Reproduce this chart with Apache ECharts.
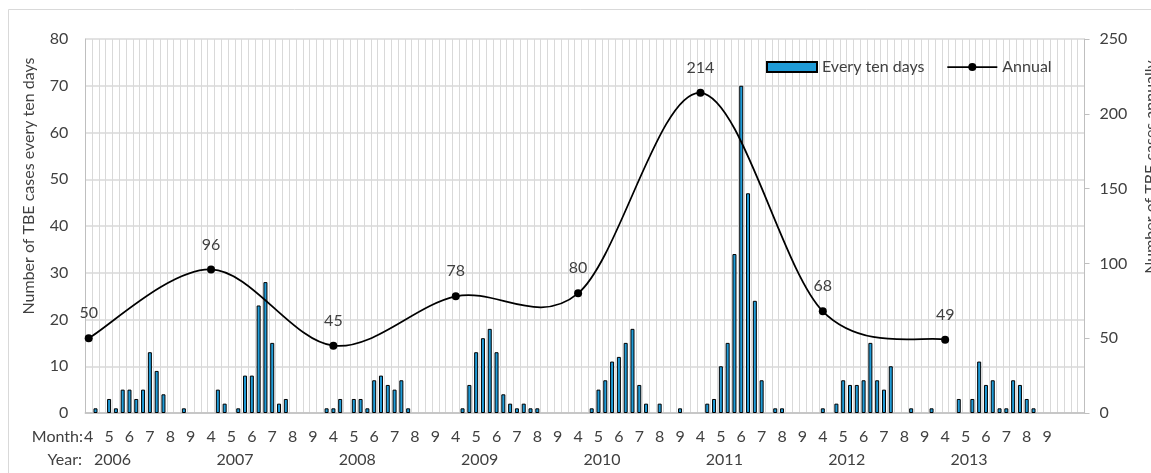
<!DOCTYPE html>
<html><head><meta charset="utf-8">
<script src="https://cdn.jsdelivr.net/npm/echarts@6/dist/echarts.min.js"></script>
<style>html,body{margin:0;padding:0;background:#fff}#c{width:1151px;height:473px}</style>
</head><body><div id="c"></div>
<script>
// ---- data ----
const years = [2006, 2007, 2008, 2009, 2010, 2011, 2012, 2013];
const months = [4, 5, 6, 7, 8, 9];
const dekads = [1, 2, 3];
// ten-day case counts, April dekad 1 ... September dekad 3, per year
const cases2006 = [0, 1, 0, 3, 1, 5, 5, 3, 5, 13, 9, 4, 0, 0, 1, 0, 0, 0];
const cases2007 = [0, 5, 2, 0, 1, 8, 8, 23, 28, 15, 2, 3, 0, 0, 0, 0, 0, 1];
const cases2008 = [1, 3, 0, 3, 3, 1, 7, 8, 6, 5, 7, 1, 0, 0, 0, 0, 0, 0];
const cases2009 = [0, 1, 6, 13, 16, 18, 13, 4, 2, 1, 2, 1, 1, 0, 0, 0, 0, 0];
const cases2010 = [0, 0, 1, 5, 7, 11, 12, 15, 18, 6, 2, 0, 2, 0, 0, 1, 0, 0];
const cases2011 = [0, 2, 3, 10, 15, 34, 70, 47, 24, 7, 0, 1, 1, 0, 0, 0, 0, 0];
const cases2012 = [1, 0, 2, 7, 6, 6, 7, 15, 7, 5, 10, 0, 0, 1, 0, 0, 1, 0];
const cases2013 = [0, 0, 3, 0, 3, 11, 6, 7, 1, 1, 7, 6, 3, 1, 0, 0, 0, 0];
const annualCases = [50, 96, 45, 78, 80, 214, 68, 49];
const trailingSlots = ['pad1', 'pad2', 'pad3'];
const leftTicks = [0, 10, 20, 30, 40, 50, 60, 70, 80];
const rightTicks = [0, 50, 100, 150, 200, 250];

// ---- build ----
const yearly = [cases2006, cases2007, cases2008, cases2009, cases2010, cases2011, cases2012, cases2013];
const categories = [];
years.forEach(y => months.forEach(m => dekads.forEach(d => categories.push(y + '-' + m + '-' + d))));
trailingSlots.forEach(p => categories.push(p));
const barData = [];
yearly.forEach(arr => arr.forEach(v => barData.push(v === 0 ? null : v)));
trailingSlots.forEach(() => barData.push(null));
const slotsPerYear = months.length * dekads.length;
const lineData = categories.map((c, i) => (i % slotsPerYear === 0 && i / slotsPerYear < years.length) ? annualCases[i / slotsPerYear] : null);
const curveData = annualCases.map((v, k) => [k * slotsPerYear, v]);

const FONT = 'Lato';
const TXT = '#404040';
const FS = 16;

// Excel-like smoothed curve (Catmull-Rom, 1/6 tangents) through the annual points
function renderCurve(params, api) {
  const i = params.dataIndexInside;
  const n = params.dataInsideLength;
  if (i >= n - 1) return null;
  const P = k => {
    const kk = Math.max(0, Math.min(n - 1, k));
    return api.coord([api.value(0, kk), api.value(1, kk)]);
  };
  const p0 = P(i - 1), p1 = P(i), p2 = P(i + 1), p3 = P(i + 2);
  return {
    type: 'bezierCurve',
    shape: {
      x1: p1[0], y1: p1[1], x2: p2[0], y2: p2[1],
      cpx1: p1[0] + (p2[0] - p0[0]) / 6, cpy1: p1[1] + (p2[1] - p0[1]) / 6,
      cpx2: p2[0] - (p3[0] - p1[0]) / 6, cpy2: p2[1] - (p3[1] - p1[1]) / 6
    },
    style: {stroke: '#000', lineWidth: 1.75, fill: null}
  };
}

const chart = echarts.init(document.getElementById('c'), null, {renderer: 'canvas'});
chart.setOption({
  animation: false,
  backgroundColor: '#fff',
  textStyle: {fontFamily: FONT, color: TXT},
  graphic: [
    {type: 'rect', shape: {x: 8.5, y: 9.5, width: 1300, height: 600}, style: {fill: 'none', stroke: '#d9d9d9', lineWidth: 1}, silent: true, z: -10},
    {type: 'text', style: {text: 'Month:', x: 83, y: 437, align: 'right', verticalAlign: 'middle', font: FS + 'px Lato', fill: TXT}},
    {type: 'text', style: {text: 'Year:', x: 82, y: 460, align: 'right', verticalAlign: 'middle', font: FS + 'px Lato', fill: TXT}}
  ],
  legend: {
    left: 766, top: 59, padding: 0, itemWidth: 50, itemHeight: 10, itemGap: 22,
    textStyle: {fontFamily: FONT, fontSize: FS, color: TXT},
    data: [
      {name: 'Every ten days', icon: 'rect'},
      {name: 'Annual', lineStyle: {width: 1.75, color: '#000', opacity: 1}}
    ]
  },
  grid: {left: 85.3, right: 66.5, top: 39, bottom: 60, outerBoundsMode: 'none'},
  xAxis: [
    {
      type: 'category', data: categories, position: 'bottom',
      axisLine: {show: true, lineStyle: {color: '#bfbfbf', width: 1.5}},
      axisTick: {show: false, interval: 0},
      splitLine: {show: true, interval: 0, lineStyle: {color: '#d9d9d9', width: 1}},
      axisLabel: {
        interval: (i, v) => /-1$/.test(v) && v.indexOf('pad') < 0,
        formatter: v => v.split('-')[1],
        margin: 16, fontSize: FS, color: TXT, fontFamily: FONT, hideOverlap: false
      }
    },
    {
      type: 'category', data: categories, position: 'bottom', offset: 23,
      axisLine: {show: false}, axisTick: {show: false}, splitLine: {show: false},
      axisLabel: {
        interval: (i, v) => /-5-1$/.test(v),
        formatter: v => v.split('-')[0],
        margin: 16, fontSize: FS, color: TXT, fontFamily: FONT, padding: [0, 0, 0, 7], hideOverlap: false
      }
    }
  ],
  yAxis: [
    {
      type: 'value', min: leftTicks[0], max: leftTicks[leftTicks.length - 1], interval: leftTicks[1] - leftTicks[0],
      name: 'Number of TBE cases every ten days', nameLocation: 'middle', nameGap: 48, nameRotate: 90,
      nameTextStyle: {fontSize: FS, color: TXT, fontFamily: FONT, padding: [0, 0, 0, 80]},
      axisLine: {show: true, lineStyle: {color: '#bfbfbf', width: 1}},
      axisTick: {show: false},
      splitLine: {show: true, lineStyle: {color: '#d9d9d9', width: 1.5}},
      axisLabel: {margin: 17, fontSize: FS, color: TXT, fontFamily: FONT}
    },
    {
      type: 'value', position: 'right', min: rightTicks[0], max: rightTicks[rightTicks.length - 1], interval: rightTicks[1] - rightTicks[0],
      name: 'Number of TBE cases annually', nameLocation: 'middle', nameGap: 58, nameRotate: 90,
      nameTextStyle: {fontSize: FS, color: TXT, fontFamily: FONT, padding: [0, 0, 0, 118]},
      axisLine: {show: true, lineStyle: {color: '#bfbfbf', width: 1}},
      axisTick: {show: true, length: 5, lineStyle: {color: '#bfbfbf'}},
      splitLine: {show: false},
      axisLabel: {margin: 15, fontSize: FS, color: TXT, fontFamily: FONT}
    }
  ],
  series: [
    {
      name: 'Every ten days', type: 'bar', data: barData, barWidth: 4,
      itemStyle: {color: '#1f9bd7', borderColor: '#000', borderWidth: 1}
    },
    {
      name: 'Annual curve', type: 'custom', xAxisIndex: 0, yAxisIndex: 1,
      data: curveData, encode: {x: 0, y: 1}, renderItem: renderCurve, silent: true, z: 4
    },
    {
      name: 'Annual', type: 'line', yAxisIndex: 1, data: lineData, connectNulls: true,
      showAllSymbol: true, symbol: 'circle', symbolSize: 8,
      itemStyle: {color: '#000'}, lineStyle: {color: '#000', width: 1.75, opacity: 0},
      label: {show: true, position: 'top', distance: 13, fontSize: FS, color: TXT, fontFamily: FONT},
      z: 5
    }
  ]
});
</script></body></html>
